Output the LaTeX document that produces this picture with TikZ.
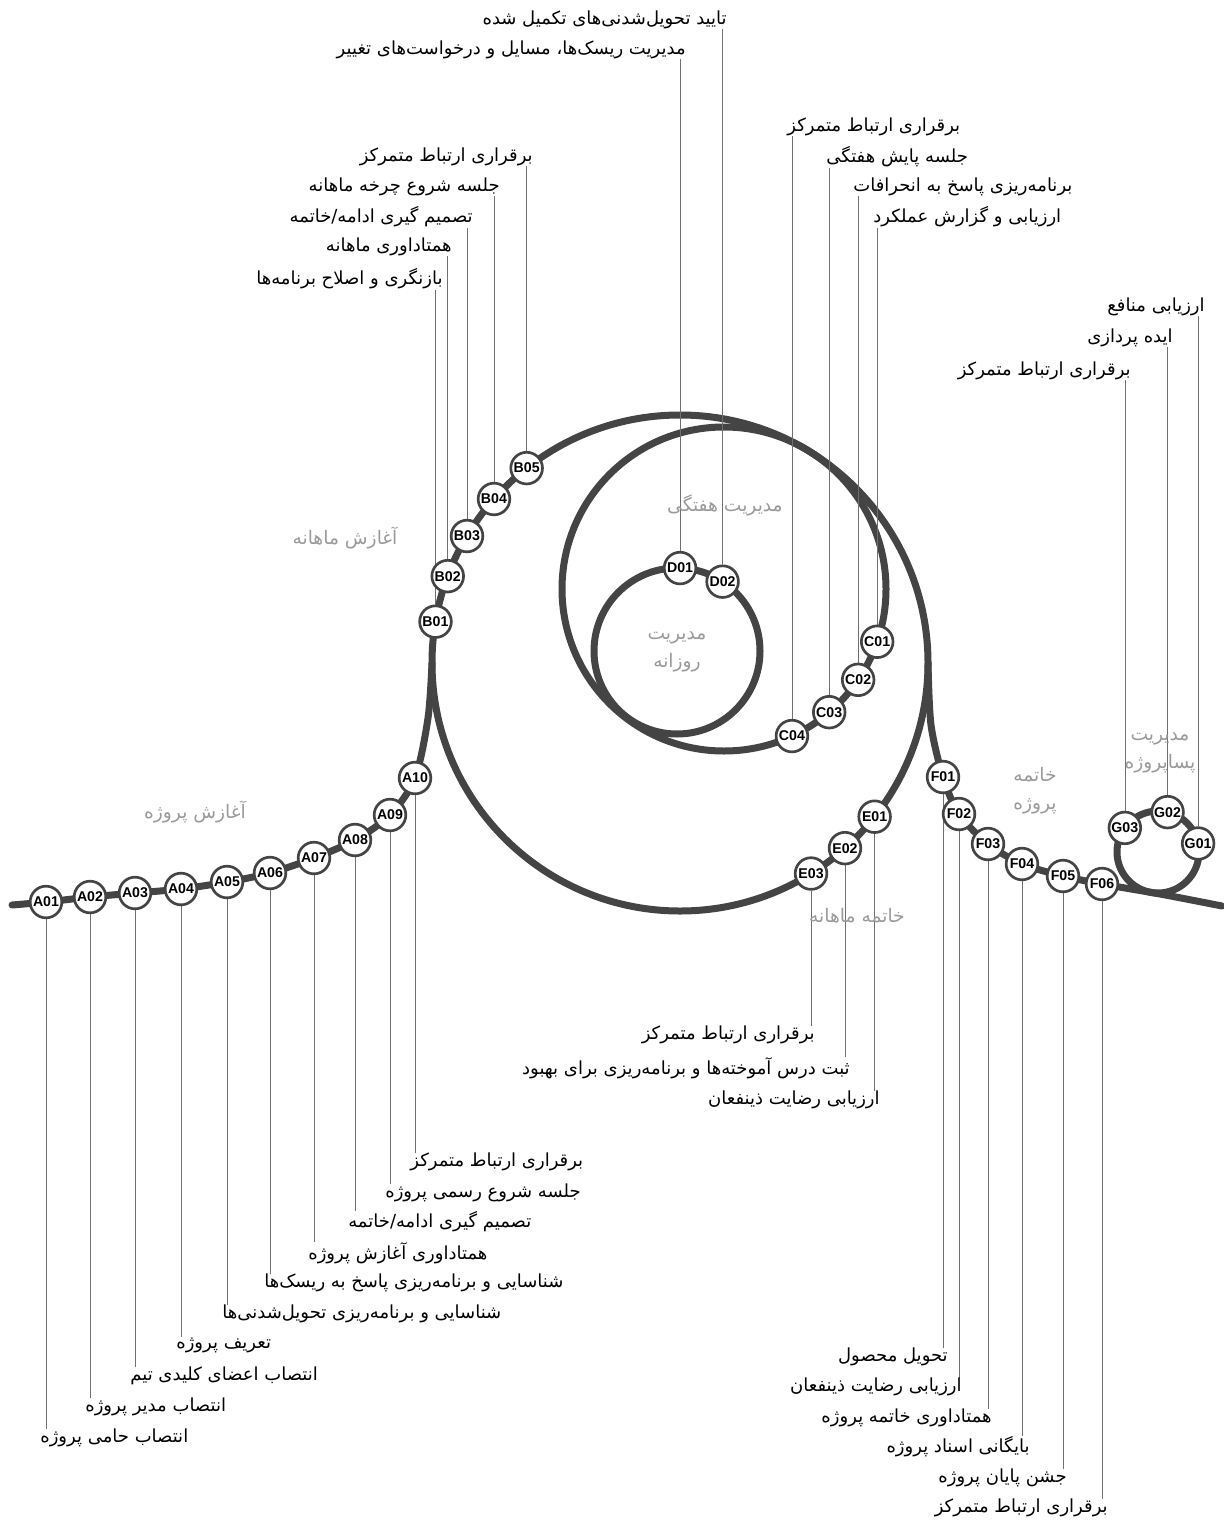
\documentclass[tikz,border=0pt]{standalone}
\usepackage{fontspec}
\usepackage{tikz}
\usetikzlibrary{calc}
\TeXXeTstate=1
\newfontfamily\fafont[Script=Arabic]{DejaVu Sans}
\newfontfamily\idfont{Liberation Sans}
\definecolor{trackgray}{HTML}{444444}
\definecolor{phasegray}{HTML}{9A9A9A}
\definecolor{leadgray}{HTML}{707070}
\pgfdeclarelayer{back}
\pgfsetlayers{back,main}

\begin{document}
\begin{tikzpicture}[x=0.6pt, y=-0.6pt,
    track/.style={draw=trackgray, line width=4.2pt, line cap=round},
    stop/.style={circle, draw=trackgray, line width=1.6pt, fill=white, minimum size=19pt, inner sep=0pt,
      font=\idfont\bfseries\fontsize{8.5}{9}\selectfont},
    task/.style={font=\fafont\fontsize{10.8}{12}\selectfont, inner sep=0pt},
    phase/.style={font=\fafont\fontsize{11.2}{17}\selectfont, text=phasegray, align=center, inner sep=0pt},
    leader/.style={draw=leadgray, line width=0.4pt}]
    \useasboundingbox (0,0) rectangle (1224,1529);

    % loop centres
    \coordinate (month) at (680,663);
    \coordinate (week)  at (724,589);
    \coordinate (day)   at (677,651);
    \coordinate (post)  at (1158,852);
    \coordinate (monthW) at ($(month)+(180:248)$);
    \coordinate (monthE) at ($(month)+(0:248)$);

    % stops on the straight parts
    \foreach \n/\x/\y in {A01/46/902, A02/90/897, A03/135/893, A04/181/889, A05/227/882,
                          A06/270/873, A07/314/858, A08/355/840, A09/390/815, A10/415/778,
                          F01/943/777, F02/959/814, F03/988/844, F04/1022/864, F05/1063/876, F06/1102/884}
      \node[stop] (\n) at (\x,\y) {\n};

    % stops on the loops
    \foreach \n/\a in {B01/189.6, B02/200.5, B03/210.8, B04/221.4, B05/231.8, E01/38.3, E02/48.3, E03/58.1}
      \node[stop] (\n) at ($(month)+(\a:248)$) {\n};
    \foreach \n/\a in {C01/19, C02/34.1, C03/49.5, C04/65.2}
      \node[stop] (\n) at ($(week)+(\a:162)$) {\n};
    \foreach \n/\a in {D01/272.1, D02/303.3}
      \node[stop] (\n) at ($(day)+(\a:83)$) {\n};
    \foreach \n/\a in {G01/348, G02/283.5, G03/216}
      \node[stop] (\n) at ($(post)+(\a:41)$) {\n};

    % phase names
    \node[phase] (pMonthStart) at (345,538) {\beginR آغازش ماهانه\endR};
    \node[phase] (pWeek)       at (725,505) {\beginR مدیریت هفتگی\endR};
    \node[phase] (pDay)        at (677,652) {\beginR مدیریت\endR\\\beginR روزانه\endR};
    \node[phase] (pProjStart)  at (195,812) {\beginR آغازش پروژه\endR};
    \node[phase] (pProjEnd)    at (1035,791) {\beginR خاتمه\endR\\\beginR پروژه\endR};
    \node[phase] (pPost)       at (1160,753) {\beginR مدیریت\endR\\\beginR پساپروژه\endR};
    \node[phase] (pMonthEnd)   at (857,916) {\beginR خاتمه ماهانه\endR};

    % tasks below the track
    \node[task, anchor=west] (lA10) at (410,1162) {\beginR برقراری ارتباط متمرکز\endR};
    \node[task, anchor=west] (lA09) at (385,1193) {\beginR جلسه شروع رسمی پروژه\endR};
    \node[task, anchor=west] (lA08) at (348,1222) {\beginR تصمیم گیری ادامه/خاتمه\endR};
    \node[task, anchor=west] (lA07) at (308,1253) {\beginR همتاداوری آغازش پروژه\endR};
    \node[task, anchor=west] (lA06) at (264,1283) {\beginR شناسایی و برنامه‌ریزی پاسخ به ریسک‌ها\endR};
    \node[task, anchor=west] (lA05) at (222,1314) {\beginR شناسایی و برنامه‌ریزی تحویل‌شدنی‌ها\endR};
    \node[task, anchor=west] (lA04) at (176,1345) {\beginR تعریف پروژه\endR};
    \node[task, anchor=west] (lA03) at (130,1376) {\beginR انتصاب اعضای کلیدی تیم\endR};
    \node[task, anchor=west] (lA02) at (85,1407)  {\beginR انتصاب مدیر پروژه\endR};
    \node[task, anchor=west] (lA01) at (40,1438)  {\beginR انتصاب حامی پروژه\endR};

    \node[task, anchor=east] (lE03) at (815,1035) {\beginR برقراری ارتباط متمرکز\endR};
    \node[task, anchor=east] (lE02) at (850,1068) {\beginR ثبت درس آموخته‌ها و برنامه‌ریزی برای بهبود\endR};
    \node[task, anchor=east] (lE01) at (880,1100) {\beginR ارزیابی رضایت ذینفعان\endR};

    \node[task, anchor=east] (lF01) at (948,1357)  {\beginR تحویل محصول\endR};
    \node[task, anchor=east] (lF02) at (962,1387)  {\beginR ارزیابی رضایت ذینفعان\endR};
    \node[task, anchor=east] (lF03) at (992,1418)  {\beginR همتاداوری خاتمه پروژه\endR};
    \node[task, anchor=east] (lF04) at (1030,1447) {\beginR بایگانی اسناد پروژه\endR};
    \node[task, anchor=east] (lF05) at (1067,1478) {\beginR جشن پایان پروژه\endR};
    \node[task, anchor=east] (lF06) at (1108,1508) {\beginR برقراری ارتباط متمرکز\endR};

    % tasks above the track
    \node[task, anchor=east] (lB05) at (533,157) {\beginR برقراری ارتباط متمرکز\endR};
    \node[task, anchor=east] (lB04) at (500,187) {\beginR جلسه شروع چرخه ماهانه\endR};
    \node[task, anchor=east] (lB03) at (473,217) {\beginR تصمیم گیری ادامه/خاتمه\endR};
    \node[task, anchor=east] (lB02) at (452,247) {\beginR همتاداوری ماهانه\endR};
    \node[task, anchor=east] (lB01) at (443,279) {\beginR بازنگری و اصلاح برنامه‌ها\endR};

    \node[task, anchor=west] (lC04) at (787,127) {\beginR برقراری ارتباط متمرکز\endR};
    \node[task, anchor=west] (lC03) at (826,157) {\beginR جلسه پایش هفتگی\endR};
    \node[task, anchor=west] (lC02) at (853,187) {\beginR برنامه‌ریزی پاسخ به انحرافات\endR};
    \node[task, anchor=west] (lC01) at (873,217) {\beginR ارزیابی و گزارش عملکرد\endR};

    \node[task, anchor=east] (lD02) at (727,20) {\beginR تایید تحویل‌شدنی‌های تکمیل شده\endR};
    \node[task, anchor=east] (lD01) at (686,50) {\beginR مدیریت ریسک‌ها، مسایل و درخواست‌های تغییر\endR};

    \node[task, anchor=east] (lG01) at (1205,307) {\beginR ارزیابی منافع\endR};
    \node[task, anchor=east] (lG02) at (1173,338) {\beginR ایده پردازی\endR};
    \node[task, anchor=east] (lG03) at (1131,371) {\beginR برقراری ارتباط متمرکز\endR};

    \begin{pgfonlayer}{back}
      % the track
      \draw[track] (month) circle[radius=248];
      \draw[track] (week) circle[radius=162];
      \draw[track] (day) circle[radius=83];
      \draw[track] (post) circle[radius=41];
      \draw[track] plot[smooth, tension=0.5] coordinates {(12,905) (A01.center) (A02.center) (A03.center)
        (A04.center) (A05.center) (A06.center) (A07.center) (A08.center) (A09.center) (A10.center)
        (428,718) (monthW)};
      \draw[track] plot[smooth, tension=0.5] coordinates {(monthE) (931,725) (F01.center) (F02.center)
        (F03.center) (F04.center) (F05.center) (F06.center) (1160,894) (1222,906)};

      % leaders
      \foreach \n in {A01,A02,A03,A04,A05,A06,A07,A08,A09,A10,E01,E02,E03,F01,F02,F03,F04,F05,F06}
        \draw[leader] (\n.south) -- (\n.south |- l\n.north);
      \foreach \n in {B01,B02,B03,B04,B05,C01,C02,C03,C04,D01,D02,G01,G02,G03}
        \draw[leader] (\n.north) -- (\n.north |- l\n.south);
    \end{pgfonlayer}
\end{tikzpicture}
\end{document}
